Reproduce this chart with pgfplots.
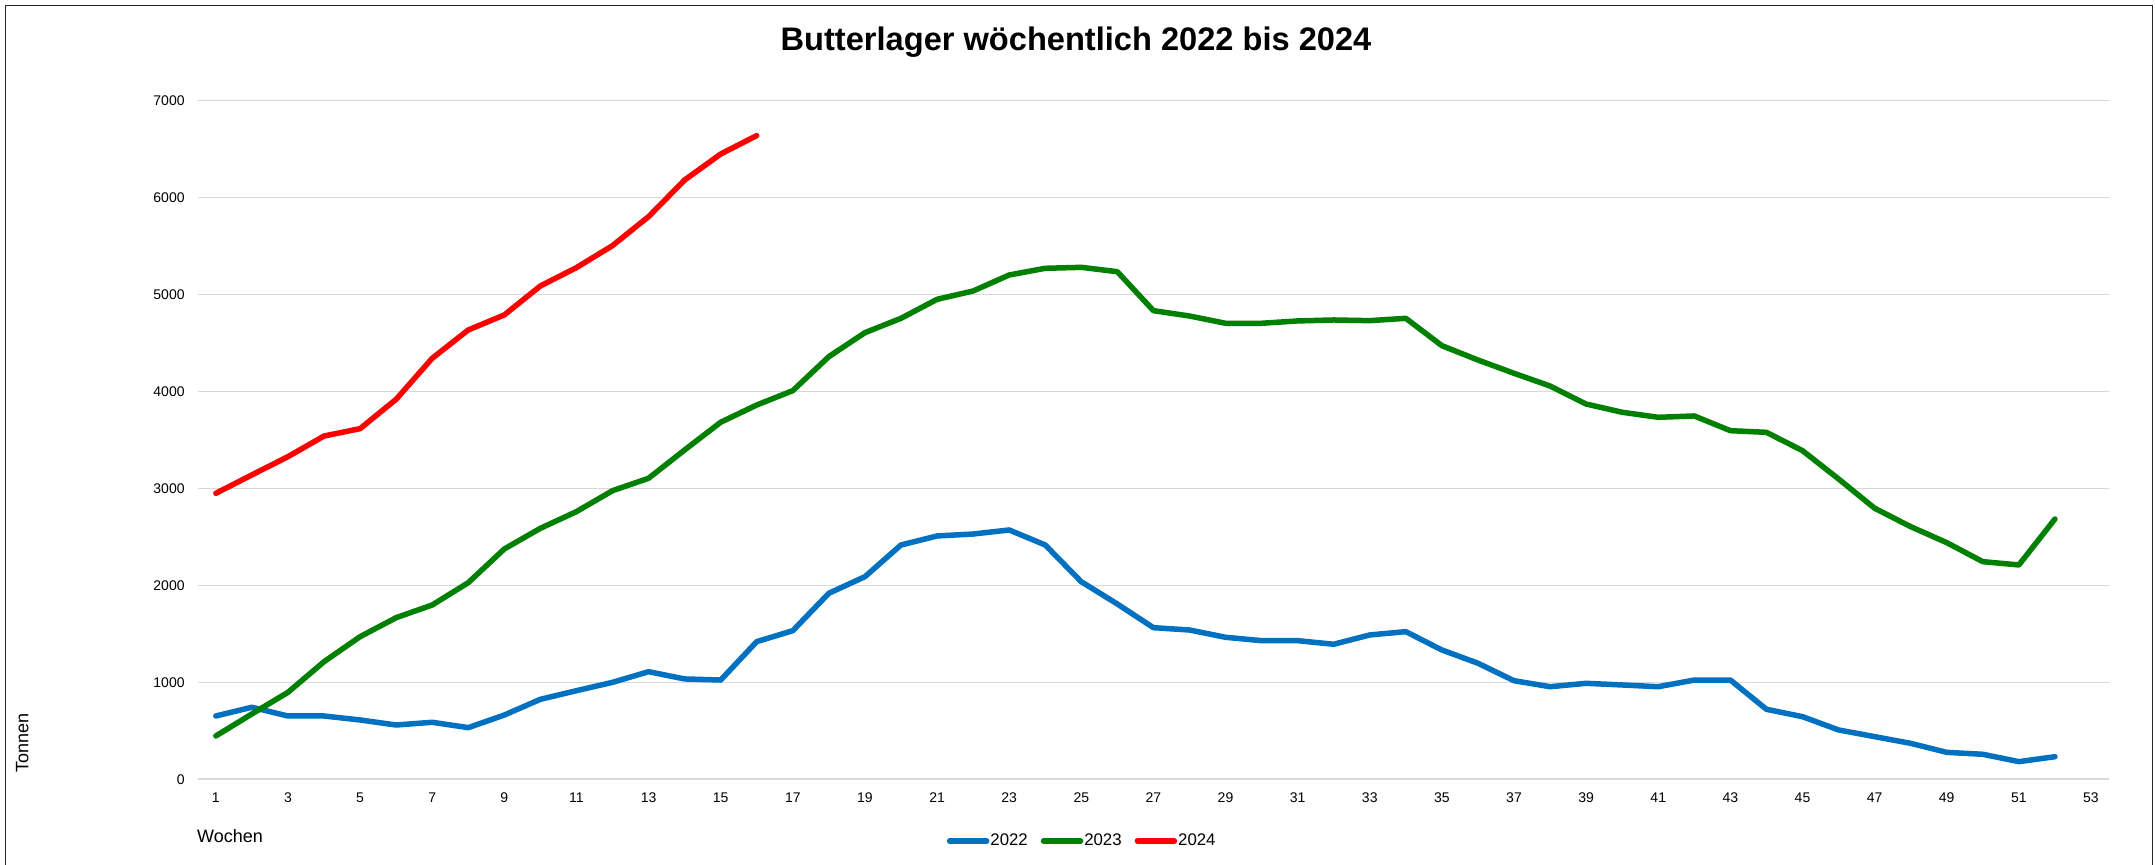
\documentclass[border=0pt]{standalone}
\usepackage{fontspec}
\setmainfont{Liberation Sans}
\usepackage{pgfplots}
\usepackage{pgfplotstable}
\pgfplotsset{compat=1.18}
\definecolor{c22}{HTML}{0070C0}
\definecolor{c23}{HTML}{008000}
\definecolor{c24}{HTML}{FF0000}
\definecolor{gridc}{HTML}{D9D9D9}

\pgfplotstableread{
w v
1 653
2 743
3 653
4 653
5 612
6 560
7 588
8 533
9 663
10 825
11 914
12 1000
13 1110
14 1035
15 1024
16 1420
17 1533
18 1919
19 2090
20 2417
21 2510
22 2530
23 2572
24 2417
25 2038
26 1808
27 1564
28 1540
29 1465
30 1430
31 1430
32 1393
33 1489
34 1523
35 1334
36 1197
37 1017
38 955
39 990
40 973
41 955
42 1024
43 1024
44 722
45 646
46 509
47 440
48 371
49 278
50 258
51 182
52 233
}\tA

\pgfplotstableread{
w v
1 447
2 674
3 897
4 1213
5 1471
6 1667
7 1798
8 2028
9 2376
10 2589
11 2761
12 2977
13 3105
14 3397
15 3683
16 3861
17 4009
18 4360
19 4607
20 4755
21 4951
22 5037
23 5202
24 5271
25 5281
26 5236
27 4834
28 4779
29 4704
30 4704
31 4728
32 4738
33 4731
34 4755
35 4473
36 4325
37 4188
38 4057
39 3871
40 3786
41 3734
42 3748
43 3596
44 3579
45 3390
46 3098
47 2796
48 2606
49 2441
50 2245
51 2211
52 2685
}\tB

\pgfplotstableread{
w v
1 2950
2 3140
3 3328
4 3541
5 3617
6 3920
7 4343
8 4635
9 4790
10 5089
11 5278
12 5505
13 5804
14 6182
15 6450
16 6640
}\tC

\begin{document}
\begin{tikzpicture}
\useasboundingbox (0,0) rectangle (1077.5pt,432.5pt);
% frame
\draw[line width=0.75pt, black!85] (2.85pt,-2pt) -- (2.85pt,429.85pt) -- (1076.35pt,429.85pt) -- (1076.35pt,-2pt);
% title
\node[anchor=base, font=\fontsize{16.3}{19}\selectfont\bfseries, inner sep=0pt] at (538pt,407pt) {Butterlager wöchentlich 2022 bis 2024};
% axis labels
\node[rotate=90, font=\fontsize{9}{11}\selectfont, inner sep=0pt] at (11.15pt,61pt) {Tonnen};
\node[font=\fontsize{9}{11}\selectfont, inner sep=0pt] at (115pt,14.6pt) {Wochen};
\begin{axis}[
  at={(98.9pt,42.85pt)}, anchor=south west,
  scale only axis, width=955.6pt, height=339.3pt,
  xmin=0.5, xmax=53.5, ymin=0, ymax=7000,
  xtick={1,3,...,53},
  ytick={0,1000,...,7000},
  axis line style={draw=none},
  major tick length=0pt,
  ymajorgrids, grid style={gridc, line width=0.8pt},
  /pgf/number format/assume math mode=true,
  /pgf/number format/set thousands separator={},
  tick label style={font=\fontsize{7}{8}\selectfont},
  yticklabel style={anchor=east, inner sep=0pt, xshift=-6.4pt},
  xticklabel style={anchor=base, inner sep=0pt, yshift=-11.4pt},
  clip=false,
  legend columns=3,
  legend style={at={(0.4625,-0.0909)}, anchor=center, draw=none, fill=none,
    font=\fontsize{8.4}{10}\selectfont, inner sep=0pt,
    nodes={inner xsep=0.5pt, inner ysep=1pt},
    /tikz/every even column/.append style={column sep=6pt}},
  legend image code/.code={\draw[#1, line cap=round] (0pt,0pt) -- (18.5pt,0pt);},
  every axis plot/.append style={line width=2.75pt, line join=round, line cap=round},
]
\addplot[c22] table[x=w,y=v] {\tA};
\addlegendentry{2022}
\addplot[c23] table[x=w,y=v] {\tB};
\addlegendentry{2023}
\addplot[c24] table[x=w,y=v] {\tC};
\addlegendentry{2024}
\end{axis}
\end{tikzpicture}
\end{document}
